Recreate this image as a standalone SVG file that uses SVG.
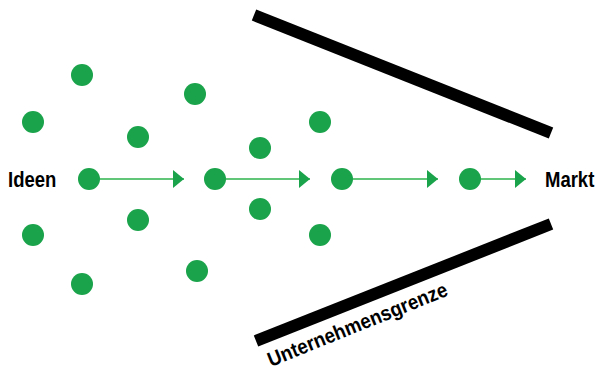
<svg xmlns="http://www.w3.org/2000/svg" width="597" height="372" viewBox="0 0 597 372">
<style>
.dot{fill:#1aa34a}
.con{stroke:#2db34a;stroke-width:1.6;fill:none}
.bar{stroke:#000;stroke-width:12;fill:none}
.lbl{font-family:"Liberation Sans",Arial,sans-serif;font-weight:bold;font-size:18.5px;fill:#000}
</style>
<defs>
<marker id="ah" markerUnits="userSpaceOnUse" markerWidth="12" markerHeight="20" refX="11" refY="9" orient="auto">
<path d="M0,0 L11,9 L0,18 Z" fill="#1aa34a"/>
</marker>
</defs>
<g id="bars">
<line class="bar" x1="254" y1="15" x2="551" y2="133"/>
<line class="bar" x1="256" y1="341" x2="551" y2="224"/>
</g>
<g id="connectors">
<line class="con" x1="100" y1="179" x2="184" y2="179" marker-end="url(#ah)"/>
<line class="con" x1="226" y1="179" x2="310" y2="179" marker-end="url(#ah)"/>
<line class="con" x1="353" y1="179" x2="438" y2="179" marker-end="url(#ah)"/>
<line class="con" x1="481" y1="179" x2="526" y2="179" marker-end="url(#ah)"/>
</g>
<g id="dots">
<circle class="dot" cx="82" cy="75" r="11"/>
<circle class="dot" cx="33" cy="122" r="11"/>
<circle class="dot" cx="195" cy="94" r="11"/>
<circle class="dot" cx="138" cy="137" r="11"/>
<circle class="dot" cx="89" cy="179" r="11"/>
<circle class="dot" cx="215" cy="179" r="11"/>
<circle class="dot" cx="260" cy="148" r="11"/>
<circle class="dot" cx="320" cy="122" r="11"/>
<circle class="dot" cx="342" cy="179" r="11"/>
<circle class="dot" cx="470" cy="179" r="11"/>
<circle class="dot" cx="260" cy="209" r="11"/>
<circle class="dot" cx="138" cy="220" r="11"/>
<circle class="dot" cx="320" cy="235" r="11"/>
<circle class="dot" cx="33" cy="235" r="11"/>
<circle class="dot" cx="82" cy="284" r="11"/>
<circle class="dot" cx="197" cy="271" r="11"/>
</g>
<g id="ideen"><text class="lbl" transform="translate(8,187) scale(1,1.18)">Ideen</text></g>
<g id="markt"><text class="lbl" transform="translate(545,187) scale(1,1.18)">Markt</text></g>
<g id="grenze"><text class="lbl" style="font-size:18.8px" transform="translate(271,367) rotate(-22) scale(1,1.1)">Unternehmensgrenze</text></g>
</svg>
